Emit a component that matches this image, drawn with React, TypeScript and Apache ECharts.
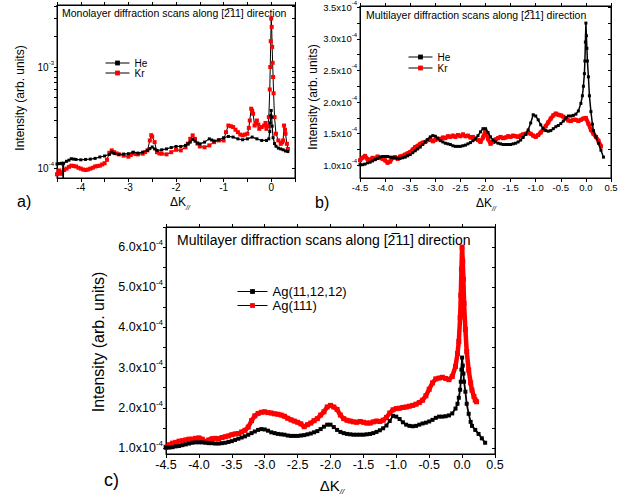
import React, { useEffect, useRef } from 'react';
import * as echarts from 'echarts';

const FONT = 'Liberation Sans, Arial, sans-serif';

// Intensities are in units of 1e-4 (arb. units)

// Panel a) Monolayer, He
const heA_x = [-4.5, -4.45, -4.4, -4.38, -4.37, -4.36, -4.3, -4.25, -4.2, -4.15, -4.1, -4.0, -3.9, -3.8, -3.7, -3.6, -3.5, -3.4, -3.35, -3.3, -3.2, -3.1, -3.0, -2.9, -2.8, -2.7, -2.6, -2.55, -2.5, -2.45, -2.4, -2.3, -2.2, -2.1, -2.0, -1.9, -1.8, -1.75, -1.7, -1.65, -1.6, -1.55, -1.5, -1.4, -1.3, -1.25, -1.2, -1.1, -1.0, -0.9, -0.8, -0.7, -0.6, -0.5, -0.4, -0.3, -0.2, -0.1, -0.05, -0.03, -0.02, -0.01, 0, 0.01, 0.02, 0.04, 0.07, 0.1, 0.15, 0.2, 0.25, 0.3, 0.35];
const heA_y = [1.10, 1.11, 1.12, 1.10, 0.60, 1.12, 1.17, 1.20, 1.24, 1.23, 1.22, 1.21, 1.22, 1.23, 1.25, 1.29, 1.32, 1.37, 1.44, 1.40, 1.37, 1.38, 1.39, 1.44, 1.41, 1.44, 1.50, 1.56, 1.62, 1.55, 1.50, 1.52, 1.55, 1.60, 1.64, 1.64, 1.68, 1.74, 1.81, 1.93, 1.85, 1.77, 1.74, 1.81, 1.95, 1.90, 1.86, 1.91, 2.00, 2.06, 2.03, 1.95, 1.91, 1.95, 2.03, 1.95, 1.88, 1.88, 1.95, 2.30, 2.80, 3.30, 3.72, 3.20, 2.60, 2.00, 1.75, 1.65, 1.58, 1.55, 1.52, 1.48, 1.46];

// Panel a) Monolayer, Kr
const krA_x = [-4.5, -4.47, -4.45, -4.42, -4.4, -4.35, -4.3, -4.25, -4.2, -4.15, -4.1, -4.05, -4.0, -3.95, -3.9, -3.85, -3.8, -3.75, -3.7, -3.65, -3.6, -3.55, -3.5, -3.45, -3.4, -3.35, -3.3, -3.25, -3.2, -3.1, -3.0, -2.95, -2.9, -2.85, -2.8, -2.7, -2.65, -2.6, -2.55, -2.52, -2.5, -2.45, -2.4, -2.35, -2.3, -2.2, -2.1, -2.0, -1.9, -1.8, -1.75, -1.7, -1.65, -1.6, -1.55, -1.5, -1.4, -1.3, -1.2, -1.1, -1.0, -0.95, -0.9, -0.85, -0.8, -0.75, -0.7, -0.65, -0.6, -0.55, -0.5, -0.47, -0.45, -0.42, -0.4, -0.38, -0.35, -0.32, -0.3, -0.27, -0.25, -0.2, -0.15, -0.12, -0.1, -0.07, -0.05, -0.03, -0.02, -0.01, 0, 0.01, 0.02, 0.03, 0.04, 0.05, 0.07, 0.1, 0.15, 0.2, 0.23, 0.25, 0.27, 0.29, 0.3, 0.33, 0.35];
const krA_y = [0.87, 0.92, 0.95, 0.88, 0.91, 0.96, 0.99, 1.03, 1.06, 1.05, 1.04, 1.01, 0.99, 0.97, 0.96, 0.97, 0.99, 1.01, 1.04, 1.05, 1.06, 1.09, 1.12, 1.21, 1.42, 1.50, 1.44, 1.40, 1.37, 1.33, 1.30, 1.35, 1.41, 1.38, 1.37, 1.39, 1.44, 1.50, 1.88, 2.12, 2.05, 1.81, 1.44, 1.40, 1.39, 1.37, 1.44, 1.52, 1.50, 1.61, 1.75, 1.95, 2.11, 1.95, 1.75, 1.64, 1.61, 1.68, 1.81, 1.88, 1.88, 2.27, 2.64, 2.60, 2.55, 2.40, 2.27, 2.15, 2.11, 2.15, 2.19, 2.50, 2.96, 3.87, 3.70, 3.45, 2.64, 2.80, 2.96, 2.70, 2.45, 2.55, 2.64, 2.80, 2.45, 2.60, 3.20, 6.0, 10.0, 18.0, 30.2, 24.9, 15.8, 11.0, 7.96, 5.5, 3.20, 2.19, 1.88, 1.74, 1.80, 1.88, 2.64, 2.40, 2.19, 1.74, 1.55];

// Panel b) Multilayer He  (identical scan shown as Ag(11,12,12) in panel c)
const heB_x = [-4.5, -4.45, -4.4, -4.35, -4.3, -4.25, -4.2, -4.15, -4.1, -4.05, -4.0, -3.95, -3.9, -3.85, -3.8, -3.75, -3.7, -3.65, -3.6, -3.55, -3.5, -3.45, -3.4, -3.35, -3.3, -3.25, -3.2, -3.15, -3.1, -3.05, -3.0, -2.95, -2.9, -2.85, -2.8, -2.75, -2.7, -2.65, -2.6, -2.55, -2.5, -2.45, -2.4, -2.35, -2.3, -2.25, -2.2, -2.15, -2.1, -2.05, -2.0, -1.95, -1.9, -1.85, -1.8, -1.75, -1.7, -1.65, -1.6, -1.55, -1.5, -1.45, -1.4, -1.35, -1.3, -1.25, -1.2, -1.15, -1.1, -1.05, -1.0, -0.95, -0.9, -0.85, -0.8, -0.75, -0.7, -0.65, -0.6, -0.55, -0.5, -0.45, -0.4, -0.35, -0.3, -0.25, -0.2, -0.15, -0.1, -0.07, -0.05, -0.03, -0.02, -0.01, 0, 0.01, 0.02, 0.03, 0.05, 0.07, 0.1, 0.13, 0.15, 0.2, 0.25, 0.3, 0.35];
const heB_y = [1.01, 1.01, 1.02, 1.04, 1.05, 1.07, 1.09, 1.11, 1.13, 1.14, 1.14, 1.14, 1.13, 1.12, 1.12, 1.11, 1.11, 1.12, 1.13, 1.15, 1.17, 1.20, 1.23, 1.26, 1.29, 1.33, 1.37, 1.41, 1.45, 1.47, 1.46, 1.43, 1.39, 1.37, 1.35, 1.34, 1.33, 1.31, 1.30, 1.30, 1.30, 1.31, 1.32, 1.34, 1.36, 1.39, 1.42, 1.47, 1.53, 1.58, 1.58, 1.52, 1.45, 1.40, 1.37, 1.35, 1.34, 1.33, 1.33, 1.33, 1.33, 1.34, 1.35, 1.37, 1.40, 1.44, 1.49, 1.56, 1.67, 1.80, 1.78, 1.72, 1.64, 1.58, 1.55, 1.54, 1.55, 1.58, 1.61, 1.63, 1.66, 1.70, 1.75, 1.78, 1.78, 1.79, 1.81, 1.86, 1.98, 2.10, 2.25, 2.45, 2.65, 2.95, 3.25, 3.05, 2.85, 2.65, 2.40, 2.10, 1.85, 1.65, 1.55, 1.45, 1.35, 1.24, 1.13];

// Panel b) Multilayer Kr
const krB_x = [-4.5, -4.45, -4.4, -4.35, -4.3, -4.25, -4.2, -4.15, -4.1, -4.05, -4.0, -3.95, -3.9, -3.85, -3.8, -3.75, -3.7, -3.65, -3.6, -3.55, -3.5, -3.45, -3.4, -3.35, -3.3, -3.25, -3.2, -3.15, -3.1, -3.05, -3.0, -2.95, -2.9, -2.85, -2.8, -2.75, -2.7, -2.65, -2.6, -2.55, -2.5, -2.45, -2.4, -2.35, -2.3, -2.25, -2.2, -2.15, -2.1, -2.05, -2.0, -1.95, -1.9, -1.85, -1.8, -1.75, -1.7, -1.65, -1.6, -1.55, -1.5, -1.45, -1.4, -1.35, -1.3, -1.25, -1.2, -1.15, -1.1, -1.05, -1.0, -0.95, -0.9, -0.85, -0.8, -0.75, -0.7, -0.65, -0.6, -0.55, -0.5, -0.45, -0.4, -0.35, -0.3, -0.25, -0.2, -0.15, -0.1, -0.05, 0.0, 0.05, 0.1, 0.15, 0.2, 0.25, 0.3];
const krB_y = [1.08, 1.12, 1.15, 1.10, 1.08, 1.12, 1.10, 1.14, 1.12, 1.10, 1.08, 1.04, 1.06, 1.12, 1.13, 1.10, 1.14, 1.15, 1.17, 1.19, 1.21, 1.25, 1.29, 1.31, 1.34, 1.36, 1.37, 1.40, 1.41, 1.38, 1.40, 1.42, 1.41, 1.44, 1.43, 1.46, 1.45, 1.47, 1.45, 1.48, 1.46, 1.49, 1.46, 1.47, 1.44, 1.45, 1.42, 1.40, 1.37, 1.44, 1.55, 1.42, 1.34, 1.37, 1.41, 1.43, 1.45, 1.43, 1.44, 1.46, 1.45, 1.47, 1.46, 1.45, 1.47, 1.49, 1.50, 1.52, 1.50, 1.47, 1.45, 1.48, 1.52, 1.57, 1.62, 1.68, 1.74, 1.79, 1.82, 1.80, 1.79, 1.77, 1.74, 1.71, 1.70, 1.72, 1.72, 1.70, 1.72, 1.74, 1.75, 1.66, 1.56, 1.50, 1.45, 1.39, 1.30];

// Panel c) Multilayer Ag(111)
const agC_x = [-4.5, -4.45, -4.4, -4.35, -4.3, -4.25, -4.2, -4.15, -4.1, -4.05, -4.0, -3.95, -3.9, -3.85, -3.8, -3.75, -3.7, -3.65, -3.6, -3.55, -3.5, -3.45, -3.4, -3.35, -3.3, -3.25, -3.2, -3.15, -3.1, -3.05, -3.0, -2.95, -2.9, -2.85, -2.8, -2.75, -2.7, -2.65, -2.6, -2.55, -2.5, -2.45, -2.4, -2.35, -2.3, -2.25, -2.2, -2.15, -2.1, -2.05, -2.0, -1.95, -1.9, -1.85, -1.8, -1.75, -1.7, -1.65, -1.6, -1.55, -1.5, -1.45, -1.4, -1.35, -1.3, -1.25, -1.2, -1.15, -1.1, -1.05, -1.0, -0.95, -0.9, -0.85, -0.8, -0.75, -0.7, -0.65, -0.6, -0.55, -0.5, -0.45, -0.4, -0.35, -0.3, -0.25, -0.2, -0.15, -0.1, -0.07, -0.05, -0.03, -0.02, -0.01, 0.0, 0.01, 0.02, 0.03, 0.05, 0.07, 0.1, 0.13, 0.15, 0.18, 0.2, 0.22];
const agC_y = [1.02, 1.08, 1.12, 1.14, 1.17, 1.18, 1.20, 1.22, 1.22, 1.24, 1.25, 1.22, 1.16, 1.20, 1.23, 1.24, 1.23, 1.26, 1.28, 1.30, 1.33, 1.35, 1.36, 1.40, 1.44, 1.52, 1.68, 1.80, 1.86, 1.89, 1.90, 1.88, 1.87, 1.85, 1.84, 1.82, 1.79, 1.74, 1.70, 1.67, 1.64, 1.60, 1.53, 1.58, 1.62, 1.68, 1.73, 1.82, 1.90, 2.02, 2.06, 2.02, 1.96, 1.82, 1.73, 1.69, 1.67, 1.65, 1.64, 1.66, 1.64, 1.62, 1.62, 1.65, 1.67, 1.66, 1.69, 1.76, 1.87, 1.95, 1.98, 1.99, 2.01, 2.02, 2.04, 2.06, 2.09, 2.13, 2.19, 2.30, 2.46, 2.62, 2.72, 2.74, 2.76, 2.73, 2.70, 2.78, 3.03, 3.35, 3.65, 4.25, 4.80, 5.45, 6.00, 5.65, 5.20, 4.60, 3.95, 3.40, 2.94, 2.62, 2.44, 2.28, 2.19, 2.15];

// Axis ranges and tick values
const xRange = [-4.5, 0.5];
const aYRange = [0.8, 41];
const bYRange = [0.8, 3.52];
const cYRange = [0.85, 6.5];
const aYTicks = [1, 2, 3, 4, 5, 6, 7, 8, 9, 10, 20, 30, 40];
const bYLabels = [1.0, 1.5, 2.0, 2.5, 3.0, 3.5];
const bYTicks = [1.0, 1.25, 1.5, 1.75, 2.0, 2.25, 2.5, 2.75, 3.0, 3.25, 3.5];
const cYLabels = [1, 2, 3, 4, 5, 6];
const cYTicks = [1, 1.5, 2, 2.5, 3, 3.5, 4, 4.5, 5, 5.5, 6, 6.5];

const TITLE_A = 'Monolayer diffraction scans along [2\u030511] direction';
const TITLE_BC = 'Multilayer diffraction scans along [2\u030511] direction';

const pairs = (xs: number[], ys: number[]) => xs.map((x, i) => [x, ys[i]]);

const blackLine = { color: '#000', width: 1 };

function xAxes(gridIndex: number, fontSize: number, fmt: (v: number) => string) {
  const base = {
    type: 'value', gridIndex, min: xRange[0], max: xRange[1], interval: 0.5,
    axisLine: { show: true, onZero: false, lineStyle: blackLine },
    splitLine: { show: false },
  };
  return [
    { ...base, position: 'bottom', axisTick: { show: true, length: 4, lineStyle: blackLine },
      axisLabel: { color: '#000', fontSize, fontFamily: FONT, formatter: fmt, margin: 4 } },
    { ...base, position: 'top', axisTick: { show: true, length: 3, lineStyle: blackLine },
      axisLabel: { show: false } },
  ];
}

function supRich(fs: number) {
  return {
    n: { fontSize: fs, fontFamily: FONT, color: '#000', lineHeight: fs + 5 },
    s: { fontSize: Math.round(fs * 0.62), fontFamily: FONT, color: '#000', lineHeight: fs * 0.62, verticalAlign: 'top' },
  };
}

function linYAxes(gridIndex: number, range: number[], labels: number[], ticks: number[], fs: number) {
  const base = {
    type: 'value', gridIndex, min: range[0], max: range[1],
    axisLine: { show: true, onZero: false, lineStyle: blackLine },
    splitLine: { show: false },
  };
  return [
    { ...base, position: 'left',
      axisTick: { show: true, length: 3, customValues: ticks, lineStyle: blackLine },
      axisLabel: { customValues: labels, margin: 3, formatter: (v: number) => `{n|${v.toFixed(1)}x10}{s|-4}`, rich: supRich(fs) } },
    { ...base, position: 'right',
      axisTick: { show: true, inside: true, length: 3, customValues: ticks, lineStyle: blackLine },
      axisLabel: { show: false } },
  ];
}

export default function App() {
  const ref = useRef<HTMLDivElement>(null);
  useEffect(() => {
    const chart = echarts.init(ref.current!, null, { renderer: 'svg' });

    const logBase = {
      type: 'log', logBase: 10, gridIndex: 0, min: aYRange[0], max: aYRange[1],
      axisLine: { show: true, onZero: false, lineStyle: blackLine },
      splitLine: { show: false },
    };
    const yAxis: any[] = [
      { ...logBase, position: 'left',
        axisTick: { show: true, length: 3, customValues: aYTicks, lineStyle: blackLine },
        axisLabel: { margin: 3, rich: supRich(10),
          formatter: (v: number) => Math.abs(v - 1) < 1e-6 ? '{n|10}{s|-4}' : Math.abs(v - 10) < 1e-6 ? '{n|10}{s|-3}' : '' } },
      { ...logBase, position: 'right',
        axisTick: { show: true, inside: true, length: 3, customValues: aYTicks, lineStyle: blackLine },
        axisLabel: { show: false } },
      ...linYAxes(1, bYRange, bYLabels, bYTicks, 9.5),
      ...linYAxes(2, cYRange, cYLabels, cYTicks, 12.5),
    ];
    // indices: a:0,1  b:2,3  c:4,5

    const xAxis: any[] = [
      ...xAxes(0, 10, (v: number) => (Math.abs(v - Math.round(v)) < 1e-6 ? String(Math.round(v)) : '')),
      ...xAxes(1, 9.5, (v: number) => v.toFixed(1)),
      ...xAxes(2, 12.5, (v: number) => v.toFixed(1)),
    ];
    // indices: a:0,1 b:2,3 c:4,5

    const heStyle = (w: number, s: number) => ({
      type: 'line', symbol: 'rect', symbolSize: s, silent: true,
      lineStyle: { color: '#000', width: w }, itemStyle: { color: '#000' }, z: 3,
    });
    const redStyle = (w: number, s: number, lineColor = '#ff0000') => ({
      type: 'line', symbol: 'rect', symbolSize: s, silent: true,
      lineStyle: { color: lineColor, width: w }, itemStyle: { color: '#ff0000' }, z: 2,
    });

    const series: any[] = [
      { ...heStyle(1.2, 3), name: 'He', xAxisIndex: 0, yAxisIndex: 0, data: pairs(heA_x, heA_y) },
      { ...redStyle(1, 4, '#000'), name: 'Kr', xAxisIndex: 0, yAxisIndex: 0, data: pairs(krA_x, krA_y) },
      { ...redStyle(4, 4), name: 'Kr', xAxisIndex: 2, yAxisIndex: 2, data: pairs(krB_x, krB_y) },
      { ...heStyle(1.5, 3), name: 'He', xAxisIndex: 2, yAxisIndex: 2, data: pairs(heB_x, heB_y) },
      { ...heStyle(1.8, 4), name: 'Ag(11,12,12)', xAxisIndex: 4, yAxisIndex: 4, data: pairs(heB_x, heB_y) },
      { ...redStyle(4.5, 5), name: 'Ag(111)', xAxisIndex: 4, yAxisIndex: 4, data: pairs(agC_x, agC_y) },
    ];

    const legendBase = {
      orient: 'vertical', selectedMode: false, itemGap: 0, itemHeight: 6,
      lineStyle: { color: '#000', width: 1 },
      textStyle: { color: '#000', fontFamily: FONT },
    };
    const legend: any[] = [
      { ...legendBase, left: 100, top: 53, itemWidth: 24, textStyle: { ...legendBase.textStyle, fontSize: 10 },
        data: ['He', 'Kr'] },
      { ...legendBase, left: 403, top: 47, itemWidth: 24, itemGap: 1, textStyle: { ...legendBase.textStyle, fontSize: 10 },
        data: ['He', 'Kr'] },
      { ...legendBase, left: 232, top: 280, itemWidth: 30, itemGap: 1, textStyle: { ...legendBase.textStyle, fontSize: 13 },
        data: ['Ag(11,12,12)', 'Ag(111)'] },
    ];

    const txt = (x: number, y: number, text: string, fs: number, extra: any = {}) => ({
      type: 'text', x, y, silent: true,
      style: { text, fontSize: fs, fontFamily: FONT, fill: '#000', verticalAlign: 'middle', ...extra },
    });
    const dk = (x: number, y: number, fs: number) => ({
      type: 'text', x, y, silent: true,
      style: {
        text: '{k|\u0394K}{s|//}', align: 'center', verticalAlign: 'middle',
        rich: {
          k: { fontSize: fs, fontFamily: FONT, fill: '#000', lineHeight: fs + 6 },
          s: { fontSize: Math.round(fs * 0.55), fontFamily: FONT, fontStyle: 'italic', fill: '#000', lineHeight: fs * 0.6, verticalAlign: 'bottom' },
        },
      },
    });
    const ylab = (x: number, y: number, fs: number) => ({
      type: 'text', x, y, rotation: Math.PI / 2, silent: true,
      style: { text: 'Intensity (arb. units)', fontSize: fs, fontFamily: FONT, fill: '#000', align: 'center', verticalAlign: 'middle' },
    });

    const graphic: any[] = [
      txt(62, 13, TITLE_A, 10.5),
      txt(366, 15, TITLE_BC, 10.5),
      txt(177, 240, TITLE_BC, 14),
      ylab(20, 98, 12),
      ylab(313, 97, 12),
      ylab(98, 342, 16),
      dk(180, 202, 12),
      dk(486, 203, 12),
      dk(332, 485, 15),
      txt(17, 201, 'a)', 16),
      txt(315, 202, 'b)', 16),
      txt(104, 480, 'c)', 18),
    ];

    const gridBox = { show: true, borderColor: '#000', borderWidth: 1, backgroundColor: 'transparent' };

    chart.setOption({
      animation: false,
      backgroundColor: '#fff',
      textStyle: { fontFamily: FONT },
      grid: [
        { ...gridBox, left: 57, top: 5, width: 238, height: 173 },
        { ...gridBox, left: 360, top: 5, width: 251, height: 173 },
        { ...gridBox, left: 166, top: 227, width: 329, height: 227 },
      ],
      xAxis, yAxis, series, legend, graphic,
    });
    return () => chart.dispose();
  }, []);
  return <div ref={ref} style={{ position: 'absolute', left: 0, top: 0, width: 641, height: 504 }} />;
}
